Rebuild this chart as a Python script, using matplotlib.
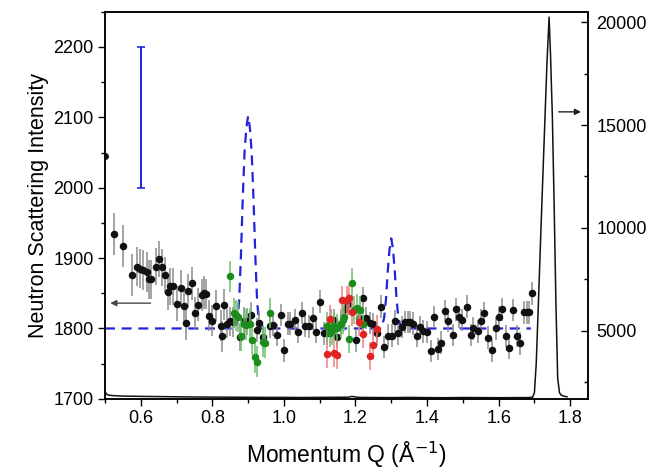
import matplotlib
matplotlib.use("Agg")
import matplotlib.pyplot as plt
from matplotlib.ticker import MultipleLocator

plt.rcParams['font.family'] = ['Liberation Sans', 'DejaVu Sans']

# ---- black data points (left axis) ----
black_q = [0.526,0.551,0.576,0.589,0.598,0.607,0.617,0.624,0.630,0.642,
           0.650,0.660,0.669,0.677,0.683,0.691,0.701,0.712,0.721,0.726,
           0.731,0.742,0.751,0.761,0.770,0.777,0.782,0.790,0.800,0.811,
           0.824,0.828,0.833,0.841,0.849,0.859,0.877,0.889,0.898,0.909,
           0.924,0.929,0.941,0.961,0.969,0.982,0.991,1.000,1.011,1.018,
           1.030,1.040,1.051,1.060,1.069,1.081,1.090,1.101,1.112,1.121,
           1.131,1.140,1.149,1.159,1.171,1.180,1.201,1.211,1.220,1.229,
           1.241,1.250,1.261,1.270,1.280,1.290,1.301,1.311,1.320,1.329,
           1.338,1.346,1.352,1.361,1.371,1.380,1.389,1.399,1.411,1.420,
           1.430,1.439,1.450,1.459,1.472,1.481,1.489,1.499,1.511,1.523,
           1.529,1.541,1.551,1.560,1.571,1.581,1.592,1.601,1.610,1.620,
           1.629,1.641,1.650,1.660,1.672,1.678,1.685,1.693]
black_i = [1934,1917,1876,1888,1885,1883,1880,1870,1870,1888,
           1899,1887,1876,1852,1860,1860,1835,1858,1832,1808,
           1853,1864,1822,1834,1848,1851,1849,1818,1811,1832,
           1804,1789,1834,1807,1810,1809,1788,1810,1810,1819,
           1798,1808,1788,1803,1805,1791,1819,1769,1807,1807,
           1812,1795,1822,1804,1803,1815,1795,1838,1793,1793,
           1812,1812,1788,1807,1828,1835,1783,1815,1843,1815,
           1808,1806,1793,1831,1774,1790,1790,1810,1793,1802,
           1809,1809,1809,1807,1789,1802,1796,1795,1768,1816,
           1771,1780,1825,1811,1791,1827,1816,1812,1831,1791,
           1800,1796,1811,1822,1787,1769,1800,1816,1827,1789,
           1772,1826,1789,1779,1823,1823,1823,1850]
black_err = [30,30,30,28,28,28,28,28,28,26,
             26,26,26,26,26,26,25,25,25,25,
             24,24,23,23,23,23,22,22,22,22,
             22,22,22,21,21,21,20,20,19,18,
             17,17,17,17,16,16,16,16,16,16,
             16,16,16,16,16,16,16,16,16,16,
             16,16,16,16,16,16,16,16,16,16,
             16,16,16,16,16,16,16,16,16,16,
             16,16,16,16,16,16,16,16,16,16,
             16,16,16,16,16,16,16,16,16,16,
             16,16,16,16,16,16,16,16,16,16,
             16,16,16,16,16,16,16,16]
edge_q = [0.500]
edge_i = [2045]

# ---- green data points ----
green_q = [0.850,0.860,0.865,0.871,0.879,0.889,0.895,0.905,0.910,0.920,0.926,0.941,0.948,0.960,
           1.120,1.128,1.134,1.141,1.149,1.159,1.164,1.169,1.183,1.189,1.196,1.205,1.213,1.220]
green_i = [1874,1822,1819,1817,1790,1806,1805,1807,1784,1759,1753,1781,1780,1822,
           1804,1793,1797,1804,1800,1807,1812,1816,1785,1864,1826,1829,1826,1806]
green_err = [22,22,22,22,22,22,22,22,22,22,22,22,22,22,
             20,20,20,20,20,20,20,20,20,22,20,20,20,20]

# ---- red data points ----
red_q = [1.121,1.130,1.140,1.149,1.161,1.175,1.182,1.191,1.209,1.221,1.241,1.250,1.259]
red_i = [1764,1813,1765,1762,1841,1840,1843,1824,1809,1792,1761,1776,1799]
red_err = [20,20,20,20,20,20,20,20,20,20,20,20,20]

# ---- blue dashed model curve (left axis) ----
model_q = [0.500,0.865,0.870,0.875,0.880,0.885,0.890,0.895,0.900,0.905,0.910,0.915,0.920,0.925,0.930,0.935,
           1.270,1.275,1.280,1.285,1.290,1.295,1.300,1.305,1.310,1.315,1.320,1.325,1.330,1.690]
model_i = [1800,1800,1810,1840,1905,1985,2050,2085,2102,2085,2050,1985,1905,1840,1810,1800,
           1800,1805,1815,1840,1880,1912,1928,1912,1880,1840,1815,1805,1800,1800]

# blue scale bar
bar_q = [0.60]
bar_mid = [2100]
bar_half = [100]

# ---- black solid curve (right axis) ----
bragg_q = [0.500,0.505,0.510,0.520,0.540,0.560,0.600,0.650,0.700,0.750,0.800,0.850,0.900,0.950,1.000,1.050,
           1.100,1.150,1.180,1.190,1.200,1.210,1.250,1.300,1.350,1.400,1.450,1.500,1.550,1.600,1.650,1.680,
           1.695,1.700,1.705,1.710,1.715,1.720,1.725,1.730,1.735,1.741,1.745,1.750,1.755,1.760,1.765,1.770,
           1.775,1.780,1.791]
bragg_i = [2050,1920,1880,1860,1840,1830,1820,1810,1800,1790,1785,1780,1775,1770,1770,1765,
           1770,1775,1780,1820,1790,1770,1765,1760,1770,1760,1755,1765,1760,1755,1760,1760,
           1780,2000,3400,5800,8300,10800,13200,15600,18000,20240,18400,15500,11200,6400,2700,2000,
           1880,1840,1800]

left_ticks = [1700, 1800, 1900, 2000, 2100, 2200]
right_ticks = [5000, 10000, 15000, 20000]
x_ticks = [0.6, 0.8, 1.0, 1.2, 1.4, 1.6, 1.8]

fig = plt.figure(figsize=(6.52, 4.72), dpi=100)
ax = fig.add_axes([0.161, 0.155, 0.741, 0.820])
ax2 = ax.twinx()

blue = '#2323dc'
ax.plot(model_q, model_i, color=blue, lw=1.6, dashes=(4.5, 3.0), zorder=2)
ax.errorbar(bar_q, bar_mid, yerr=bar_half, fmt='none', ecolor=blue, elinewidth=1.4,
            capsize=3.2, capthick=1.2, zorder=3)

ax.errorbar(black_q, black_i, yerr=black_err, fmt='o', color='#111111', ms=4.4,
            mec='#111111', ecolor='#8c8c8c', elinewidth=1.1, capsize=0, zorder=4)
ax.plot(edge_q, edge_i, 'o', color='#111111', ms=4.0, zorder=4, clip_on=True)
ax.errorbar(green_q, green_i, yerr=green_err, fmt='o', color='#1c8c1c', ms=4.4,
            mec='#1c8c1c', ecolor='#6cbf6c', elinewidth=1.1, capsize=0, zorder=5)
ax.errorbar(red_q, red_i, yerr=red_err, fmt='o', color='#e02424', ms=4.4,
            mec='#e02424', ecolor='#f08080', elinewidth=1.1, capsize=0, zorder=5)

ax2.plot(bragg_q, bragg_i, color='#111111', lw=1.1)

ax.annotate('', xy=(0.507, 1836), xytext=(0.635, 1836),
            arrowprops=dict(arrowstyle='-|>', color='#444444', lw=1.0, mutation_scale=9))
ax2.annotate('', xy=(1.838, 15640), xytext=(1.760, 15640),
             arrowprops=dict(arrowstyle='-|>', color='#222222', lw=1.0, mutation_scale=9))

ax.set_xlim(0.5, 1.85)
ax.set_ylim(1700, 2250)
ax2.set_ylim(1700, 20500)

ax.set_xticks(x_ticks)
ax.set_xticklabels([f'{t:.1f}' for t in x_ticks])
ax.xaxis.set_minor_locator(MultipleLocator(0.1))
ax.set_yticks(left_ticks)
ax.yaxis.set_minor_locator(MultipleLocator(50))
ax2.set_yticks(right_ticks)
ax2.yaxis.set_minor_locator(MultipleLocator(2500))

ax.tick_params(axis='both', which='major', direction='out', length=5, width=1.0,
               labelsize=13, pad=3, top=False, right=False)
ax.tick_params(axis='both', which='minor', direction='out', length=3, width=1.0,
               top=False, right=False)
ax2.tick_params(axis='y', which='major', direction='in', length=5, width=1.0,
                labelsize=13, pad=6)
ax2.tick_params(axis='y', which='minor', direction='in', length=3, width=1.0)

for a in (ax, ax2):
    for s in a.spines.values():
        s.set_linewidth(1.1)

ax.set_ylabel('Neutron Scattering Intensity', fontsize=15.5, labelpad=3)
ax.set_xlabel('Momentum Q (Å$^{-1}$)', fontsize=16.5, labelpad=9)

fig.savefig('out.png', dpi=100)
